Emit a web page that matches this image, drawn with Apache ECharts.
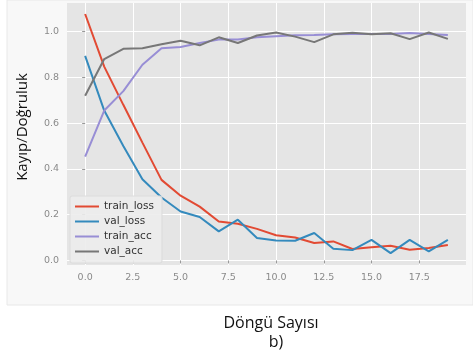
<!DOCTYPE html>
<html>
<head>
<meta charset="utf-8">
<script src="https://cdn.jsdelivr.net/npm/echarts@6/dist/echarts.min.js"></script>
<style>
html,body{margin:0;padding:0;background:#fff;}
#c{width:473px;height:354px;}
</style>
</head>
<body>
<div id="c"></div>
<script>
const epochs = [0,1,2,3,4,5,6,7,8,9,10,11,12,13,14,15,16,17,18,19];
const trainLoss = [1.077,0.847,0.68,0.515,0.352,0.283,0.235,0.17,0.16,0.138,0.11,0.10,0.076,0.083,0.05,0.058,0.064,0.047,0.054,0.067];
const valLoss = [0.894,0.655,0.50,0.355,0.275,0.214,0.19,0.127,0.178,0.098,0.087,0.086,0.12,0.051,0.045,0.09,0.032,0.09,0.04,0.09];
const trainAcc = [0.454,0.655,0.74,0.855,0.927,0.933,0.95,0.965,0.966,0.975,0.98,0.984,0.985,0.988,0.99,0.99,0.99,0.994,0.99,0.985];
const valAcc = [0.72,0.88,0.925,0.927,0.945,0.96,0.94,0.975,0.95,0.983,0.996,0.978,0.954,0.988,0.995,0.988,0.993,0.967,0.996,0.968];
const xTicks = [0,2.5,5,7.5,10,12.5,15,17.5];
const yTicks = [0,0.2,0.4,0.6,0.8,1.0];
const seriesNames = ['train_loss','val_loss','train_acc','val_acc'];
const xTitle = 'Döngü Sayısı';
const yTitle = 'Kayıp/Doğruluk';
const caption = 'b)';

const colors = ['#E24A33','#348ABD','#988ED5','#777777'];
const allData = [trainLoss,valLoss,trainAcc,valAcc];

const chart = echarts.init(document.getElementById('c'));
chart.setOption({
  animation:false,
  backgroundColor:'#ffffff',
  graphic:[
    {type:'rect',z:-10,shape:{x:7,y:0,width:466,height:305},style:{fill:'#f8f8f8',stroke:'#e8e8e8',lineWidth:1}},
    {type:'rect',z:-9,shape:{x:205,y:306,width:175,height:48},style:{fill:'#ffffff'}},
    {type:'text',x:271,y:323,style:{text:xTitle,fontFamily:'Open Sans',fontSize:16,fill:'#111',align:'center',verticalAlign:'middle'}},
    {type:'text',x:276,y:342,style:{text:caption,fontFamily:'Open Sans',fontSize:16,fill:'#111',align:'center',verticalAlign:'middle'}},
    {type:'text',x:23,y:127,rotation:Math.PI/2,style:{text:yTitle,fontFamily:'Open Sans',fontSize:15,fill:'#111',align:'center',verticalAlign:'middle'}}
  ],
  grid:{left:67,right:7,top:3,bottom:89,show:true,backgroundColor:'#e5e5e5',borderWidth:0},
  legend:{
    left:70,top:196,orient:'vertical',itemGap:4,itemWidth:24,itemHeight:11.5,
    backgroundColor:'rgba(236,236,236,0.9)',borderColor:'#dcdcdc',borderWidth:1,borderRadius:2,
    padding:[5,8,6,5],
    textStyle:{fontFamily:'DejaVu Sans',fontSize:10.5,color:'#333'},
    icon:'path://M0,5 L24,5 L24,7 L0,7 Z',
    data:seriesNames
  },
  xAxis:{
    type:'value',min:-0.95,max:19.95,interval:2.5,
    axisLine:{show:false},
    axisTick:{show:true,length:3,lineStyle:{color:'#999'},customValues:xTicks},
    axisLabel:{customValues:xTicks,color:'#8a8a8a',fontFamily:'DejaVu Sans',fontSize:9.5,margin:8,
      formatter:v=>v.toFixed(1)},
    splitLine:{show:true,lineStyle:{color:'#ffffff',width:1}}
  },
  yAxis:{
    type:'value',min:-0.02,max:1.125,interval:0.2,
    axisLine:{show:false},
    axisTick:{show:true,length:3,lineStyle:{color:'#999'},customValues:yTicks},
    axisLabel:{customValues:yTicks,color:'#8a8a8a',fontFamily:'DejaVu Sans',fontSize:9.5,margin:8,
      formatter:v=>v.toFixed(1)},
    splitLine:{show:true,lineStyle:{color:'#ffffff',width:1}}
  },
  series: seriesNames.map((n,i)=>({
    name:n,type:'line',showSymbol:false,symbol:'none',
    lineStyle:{color:colors[i],width:2},itemStyle:{color:colors[i]},
    data:epochs.map((e,j)=>[e,allData[i][j]])
  }))
});
</script>
</body>
</html>
